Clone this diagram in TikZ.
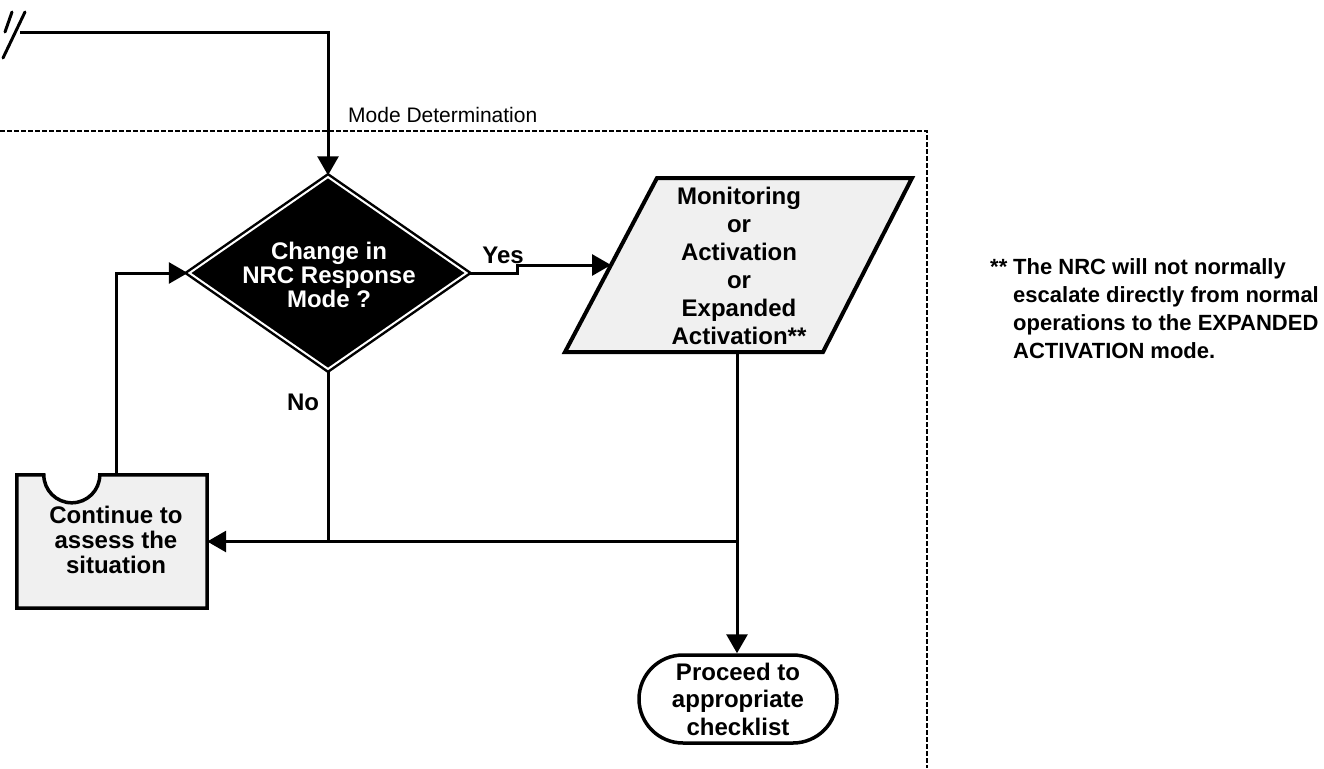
\documentclass[tikz,border=0pt]{standalone}
\usepackage{fontspec}
\setmainfont{Liberation Sans}
\usetikzlibrary{shapes.geometric,shapes.misc,arrows.meta,calc}
\begin{document}
\begin{tikzpicture}[x=1pt,y=1pt,
  conn/.style={line width=3pt},
  arr/.style={conn,-{Triangle[length=19pt,width=21pt]}},
  speck/.style={fill=black!6},
  lbl/.style={font=\fontsize{24}{29.6}\selectfont\bfseries, align=center, inner sep=0pt},
  frame/.style={line width=2pt, dash pattern=on 5pt off 2pt},
  border/.style={draw=black, line width=3.5pt}
]
\useasboundingbox (0,0) rectangle (1324,-768);

% dashed group frame
\draw[frame] (0,-131) -- (927,-131) -- (927,-768);
\node[anchor=west, font=\fontsize{21}{25}\selectfont, inner sep=0pt] (mode) at (348,-115) {Mode Determination};

% break mark
\draw[line width=3pt, line cap=round] (3,-58) -- (25,-12);
\draw[line width=3pt, line cap=round] (5,-32) -- (12,-12);
\coordinate (start) at (20,-33);

% decision diamond
\node[diamond, fill=black, draw=black, line width=2.5pt, double=white, double distance=2pt,
      minimum width=278pt, minimum height=193pt, inner sep=0pt] (dia) at (328,-273) {};
\node[text=white, font=\fontsize{24}{24}\selectfont\bfseries, align=center, inner sep=0pt]
      (diatext) at (329,-275) {Change in\\NRC Response\\Mode ?};

% parallelogram (data)
\draw[draw=black, line width=4pt, speck, line join=miter]
  (565,-352) -- (657,-178) -- (912,-178) -- (823,-352) -- cycle;
\coordinate (actw) at (611,-265);
\coordinate (acts) at (737,-352);
\node[lbl, font=\fontsize{24}{28}\selectfont\bfseries] (acttext) at (739,-266) {Monitoring\\or\\Activation\\or\\Expanded\\Activation**};

% left box with notch
\node[minimum width=190pt, minimum height=133pt, inner sep=0pt] (box) at (112,-541.5) {};
\draw[border, speck] (box.north west) -- ++(27,0) arc[start angle=180, end angle=360, radius=28pt]
      -- (box.north east) -- (box.south east) -- (box.south west) -- cycle;
\node[lbl, font=\fontsize{24}{25}\selectfont\bfseries] (boxtext) at (116,-540) {Continue to\\assess the\\situation};

% terminal
\node[rounded rectangle, border, minimum width=198pt, minimum height=88pt, inner sep=0pt] (term) at (738,-699) {};
\node[lbl, font=\fontsize{24}{27.5}\selectfont\bfseries] (termtext) at (738,-699) {Proceed to\\appropriate\\checklist};

% connectors
\draw[arr] (start) -| (dia.north);
\draw[arr] (dia.east) -- ++(49,0) |- (actw);
\draw[arr] (acts) -- (acts |- term.north);
\coordinate (junc) at (acts |- box.east);
\draw[arr] (junc) -- (box.east);
\draw[conn] (dia.south) -- (dia.south |- box.east);
\draw[arr] ($(box.north)+(4,0)$) |- (dia.west);

% labels
\node[lbl] (yes) at (503,-255) {Yes};
\node[lbl] (no) at (303,-402) {No};

% note
\node[anchor=north west, font=\fontsize{22}{28}\selectfont\bfseries, align=left, inner sep=0pt] (note) at (990,-258)
  {\makebox[23pt][l]{**}The NRC will not normally\\
   \hspace*{23pt}escalate directly from normal\\
   \hspace*{23pt}operations to the EXPANDED\\
   \hspace*{23pt}ACTIVATION mode.};
\end{tikzpicture}
\end{document}
